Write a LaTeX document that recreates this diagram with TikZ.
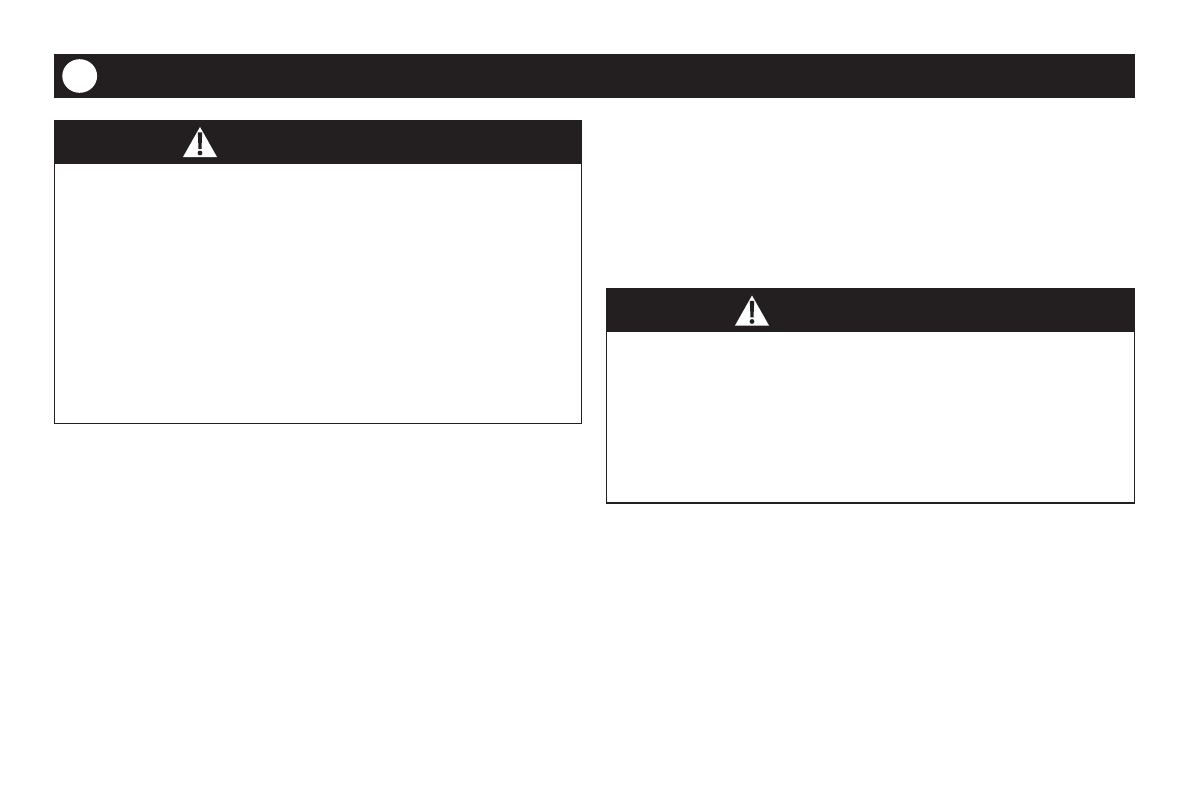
\documentclass[tikz,border=0pt]{standalone}
\definecolor{ink}{HTML}{231F20}
\tikzset{
  x=1pt,y=-1pt,
  headbar/.style={fill=ink,draw=none},
  boxframe/.style={draw=ink,line width=1.3pt,fill=white},
  warn/.pic={
    \fill[white,line join=round] (0,-15) -- (17,15) -- (-17,15) -- cycle;
    \fill[ink] (-2.2,-9.7) -- (2.2,-9.7) -- (1.5,6.8) -- (-1.5,6.8) -- cycle;
    \fill[ink] (0,11) circle (2.4);
  }
}
\begin{document}
\begin{tikzpicture}
\useasboundingbox (0,0) rectangle (1189,811);
\fill[white] (0,0) rectangle (1189,811);
% top bar
\fill[headbar] (54,54) rectangle (1135,98);
\fill[white] (79.7,76) ellipse (17.4 and 16.8);
% left box
\draw[boxframe] (54.6,120.5) rectangle (581.6,423.6);
\fill[headbar] (54,120) rectangle (582,164);
\pic at (200,142) {warn};
% right box
\draw[boxframe] (606.6,288.5) rectangle (1134.6,503);
\fill[headbar] (606,288) rectangle (1135,332);
\pic at (752,310.5) {warn};
\end{tikzpicture}
\end{document}
